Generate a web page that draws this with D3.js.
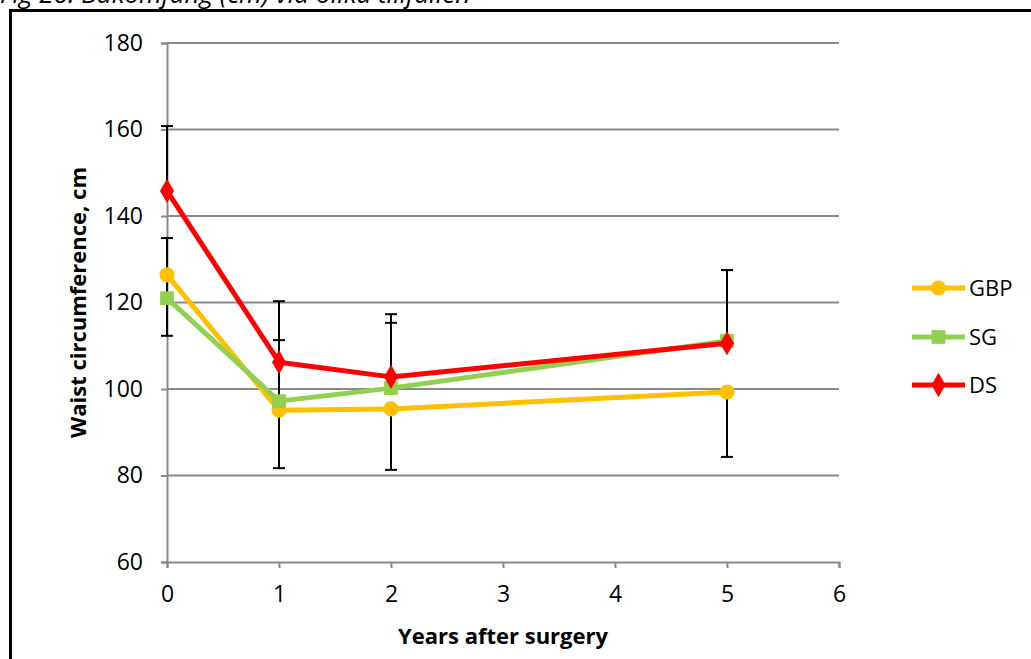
<!DOCTYPE html>
<html lang="en">
<head>
<meta charset="utf-8">
<title>Waist circumference</title>
<script src="https://d3js.org/d3.v7.min.js"></script>
<style>
  body { margin: 0; background: #fff; }
  text { font-family: "Open Sans", "Lato", sans-serif; }
</style>
</head>
<body>
<script>
// data
var years = [0, 1, 2, 5];
var gbp = [126.4, 95.1, 95.4, 99.3];
var sg = [121.0, 97.2, 100.2, 111.1];
var ds = [145.8, 106.2, 102.8, 110.6];
// one-sided error bars (GBP minus, SG and DS plus)
var gbpErrMinus = [14.1, 13.4, 14.1, 15.0];
var sgErrPlus = [13.9, 14.1, 15.1, 16.4];
var dsErrPlus = [15.0, 14.1, 14.5, 16.9];
var xTicks = [0, 1, 2, 3, 4, 5, 6];
var yTicks = [60, 80, 100, 120, 140, 160, 180];
var seriesNames = ["GBP", "SG", "DS"];

var w = 1031, h = 659;
var x = d3.scaleLinear().domain([0, 6]).range([167, 839]);
var y = d3.scaleLinear().domain([60, 180]).range([562, 43]);

var svg = d3.select("body").append("svg").attr("width", w).attr("height", h);

// caption, top half sits above the page edge like in the source
svg.append("text").attr("x", 0).attr("y", 3)
  .attr("font-size", 26).attr("font-style", "italic")
  .text("Fig 26. Bukomfång (cm) vid olika tillfällen");

// frame
svg.append("path").attr("d", "M10.5," + h + "V10.5H" + w)
  .attr("fill", "none").attr("stroke", "#000").attr("stroke-width", 3);

// gridlines
svg.append("g").selectAll("line").data(yTicks.slice(1)).join("line")
  .attr("x1", x(0)).attr("x2", x(6))
  .attr("y1", d => y(d)).attr("y2", d => y(d))
  .attr("stroke", "#898989").attr("stroke-width", 2);

// axes
var xAxis = d3.axisBottom(x).tickValues(xTicks).tickSize(6).tickPadding(18).tickFormat(d3.format("d"));
var yAxis = d3.axisLeft(y).tickValues(yTicks).tickSize(6).tickPadding(18);
var gx = svg.append("g").attr("transform", "translate(0," + y(60) + ")").call(xAxis);
var gy = svg.append("g").attr("transform", "translate(" + x(0) + ",0)").call(yAxis);
[gx, gy].forEach(function(g) {
  g.select(".domain").attr("stroke", "#898989").attr("stroke-width", 2);
  g.selectAll(".tick line").attr("stroke", "#898989").attr("stroke-width", 2);
  g.selectAll(".tick text").attr("font-size", 23).attr("fill", "#000")
    .style("font-family", "'Open Sans', sans-serif");
});

// axis titles
svg.append("text").attr("x", x(3)).attr("y", 644).attr("text-anchor", "middle")
  .attr("font-size", 22).attr("font-weight", "bold").text("Years after surgery");
svg.append("text").attr("transform", "translate(86," + y(120) + ") rotate(-90)")
  .attr("text-anchor", "middle").attr("font-size", 22).attr("font-weight", "bold")
  .text("Waist circumference, cm");

// error bars
var errs = [];
years.forEach(function(yr, i) {
  errs.push({ x: yr, from: gbp[i], to: gbp[i] - gbpErrMinus[i] });
  errs.push({ x: yr, from: sg[i], to: sg[i] + sgErrPlus[i] });
  errs.push({ x: yr, from: ds[i], to: ds[i] + dsErrPlus[i] });
});
var ge = svg.append("g").attr("stroke", "#000").attr("stroke-width", 2);
ge.selectAll("line.bar").data(errs).join("line").attr("class", "bar")
  .attr("x1", d => x(d.x)).attr("x2", d => x(d.x))
  .attr("y1", d => y(d.from)).attr("y2", d => y(d.to));
ge.selectAll("line.cap").data(errs).join("line").attr("class", "cap")
  .attr("x1", d => x(d.x) - 6).attr("x2", d => x(d.x) + 6)
  .attr("y1", d => y(d.to)).attr("y2", d => y(d.to));

// series
var colors = { GBP: "#FFC000", SG: "#92D050", DS: "#FF0000" };
var values = { GBP: gbp, SG: sg, DS: ds };
var symbols = { GBP: d3.symbolCircle, SG: d3.symbolSquare, DS: d3.symbolDiamond };
var sizes = { GBP: 180, SG: 190, DS: 170 };
var line = d3.line().x(d => x(d[0])).y(d => y(d[1]));

seriesNames.forEach(function(name) {
  var pts = years.map((yr, i) => [yr, values[name][i]]);
  svg.append("path").datum(pts).attr("d", line)
    .attr("fill", "none").attr("stroke", colors[name]).attr("stroke-width", 5)
    .attr("stroke-linejoin", "round");
  svg.append("g").selectAll("path").data(pts).join("path")
    .attr("transform", d => "translate(" + x(d[0]) + "," + y(d[1]) + ")")
    .attr("d", d3.symbol().type(symbols[name]).size(sizes[name]))
    .attr("fill", colors[name]);
});

// legend
var legendY = { GBP: 288, SG: 337, DS: 385 };
var lg = svg.append("g");
seriesNames.forEach(function(name) {
  var ly = legendY[name];
  lg.append("line").attr("x1", 912).attr("x2", 965).attr("y1", ly).attr("y2", ly)
    .attr("stroke", colors[name]).attr("stroke-width", 5);
  lg.append("path").attr("transform", "translate(938.5," + ly + ")")
    .attr("d", d3.symbol().type(symbols[name]).size(sizes[name])).attr("fill", colors[name]);
  lg.append("text").attr("x", 969).attr("y", ly + 8).attr("font-size", 22).text(name);
});
</script>
</body>
</html>
